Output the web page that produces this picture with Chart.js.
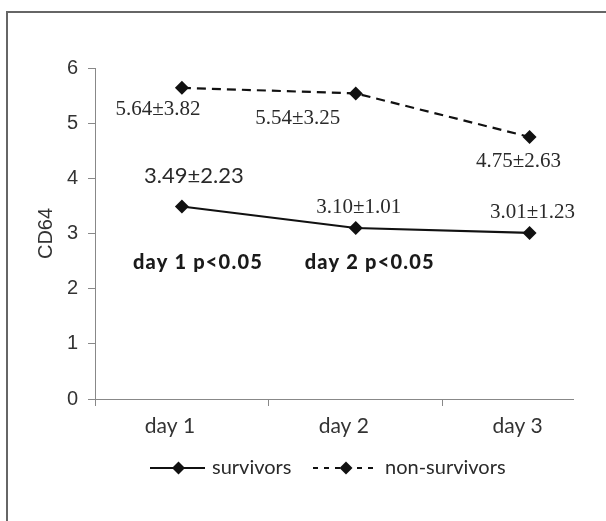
<!DOCTYPE html>
<html><head><meta charset="utf-8">
<script src="https://cdn.jsdelivr.net/npm/chart.js@4"></script>
<style>html,body{margin:0;padding:0;background:#fff}#wrap{width:606px;height:521px;position:relative}</style>
</head><body><div id="wrap"><canvas id="c"></canvas></div>
<script>
const categories = ['day 1', 'day 2', 'day 3'];
const survivors = [3.49, 3.10, 3.01];
const nonSurvivors = [5.64, 5.54, 4.75];
const survivorLabels = ['3.49\u00b12.23', '3.10\u00b11.01', '3.01\u00b11.23'];
const nonSurvivorLabels = ['5.64\u00b13.82', '5.54\u00b13.25', '4.75\u00b12.63'];
const seriesNames = ['survivors', 'non-survivors'];
const pNotes = ['day 1 p<0.05', 'day 2 p<0.05'];
const yTicks = [0, 1, 2, 3, 4, 5, 6];
const xBoundaries = [-0.5, 0.5, 1.5];

const SERIF = '21px "Liberation Serif", serif';
const SANS = '22px "Lato", sans-serif';
const labelOffsets = [
  [[12,-31],[3,-20],[3,-20]],
  [[-24,22],[-58,25],[-11,25]]
];
const labelFonts = [[SANS, SERIF, SERIF], [SERIF, SERIF, SERIF]];

const deco = {
  id: 'deco',
  beforeDraw(chart) {
    const ctx = chart.ctx;
    ctx.save();
    ctx.fillStyle = '#fff';
    ctx.fillRect(0, 0, chart.width, chart.height);
    ctx.strokeStyle = '#666';
    ctx.lineWidth = 2;
    ctx.strokeRect(7, 12, 800, 800);
    ctx.restore();
  },
  afterDatasetsDraw(chart) {
    const ctx = chart.ctx;
    ctx.save();
    ctx.fillStyle = '#2a2a2a';
    ctx.textAlign = 'center';
    ctx.textBaseline = 'middle';
    const texts = [survivorLabels, nonSurvivorLabels];
    [0, 1].forEach(di => {
      const meta = chart.getDatasetMeta(di);
      meta.data.forEach((pt, i) => {
        const o = labelOffsets[di][i];
        ctx.font = labelFonts[di][i];
        ctx.fillText(texts[di][i], pt.x + o[0], pt.y + o[1]);
      });
    });
    const xs = chart.scales.x, ys = chart.scales.y;
    ctx.font = '900 20px "Lato", sans-serif';
    try { ctx.letterSpacing = '1.2px'; } catch (e) {}
    ctx.fillStyle = '#1a1a1a';
    ctx.textAlign = 'left';
    ctx.fillText(pNotes[0], xs.getPixelForValue(0) - 49, ys.getPixelForValue(2.48));
    ctx.fillText(pNotes[1], xs.getPixelForValue(1) - 51, ys.getPixelForValue(2.48));
    try { ctx.letterSpacing = '0px'; } catch (e) {}
    // legend
    const ly = 468;
    const items = [
      { x1: 150, x2: 205, tx: 212, dash: [], name: seriesNames[0] },
      { x1: 313, x2: 377, tx: 385, dash: [5, 6], name: seriesNames[1] }
    ];
    items.forEach(it => {
      ctx.strokeStyle = '#111';
      ctx.lineWidth = 2;
      ctx.setLineDash(it.dash);
      ctx.beginPath();
      ctx.moveTo(it.x1, ly); ctx.lineTo(it.x2, ly); ctx.stroke();
      ctx.setLineDash([]);
      const cx = (it.x1 + it.x2) / 2 + 1, r = 6.5;
      ctx.fillStyle = '#111';
      ctx.beginPath();
      ctx.moveTo(cx, ly - r); ctx.lineTo(cx + r, ly); ctx.lineTo(cx, ly + r); ctx.lineTo(cx - r, ly);
      ctx.closePath(); ctx.fill();
      ctx.fillStyle = '#2a2a2a';
      ctx.font = '20px "Lato", sans-serif';
      ctx.textAlign = 'left';
      ctx.fillText(it.name, it.tx, ly);
    });
    ctx.restore();
  }
};

const toPts = arr => arr.map((v, i) => ({ x: i, y: v }));

new Chart(document.getElementById('c'), {
  type: 'line',
  data: {
    datasets: [
      { label: seriesNames[0], data: toPts(survivors), borderColor: '#111', backgroundColor: '#111',
        borderWidth: 2.2, pointStyle: 'rectRot', pointRadius: 7, pointBorderWidth: 0, tension: 0 },
      { label: seriesNames[1], data: toPts(nonSurvivors), borderColor: '#111', backgroundColor: '#111',
        borderWidth: 2.2, borderDash: [9, 6], pointStyle: 'rectRot', pointRadius: 7, pointBorderWidth: 0, tension: 0 }
    ]
  },
  options: {
    responsive: true, maintainAspectRatio: false, animation: false,
    layout: { padding: { left: 0, top: 68, right: 33, bottom: 82 } },
    plugins: { legend: { display: false }, tooltip: { enabled: false } },
    scales: {
      y: {
        min: 0, max: 6,
        afterBuildTicks(s) { s.ticks = yTicks.map(v => ({ value: v })); },
        afterFit(s) { s.width = 95; },
        grid: { drawOnChartArea: false, drawTicks: true, tickLength: 7, color: '#888' },
        border: { display: true, color: '#888', width: 1 },
        ticks: { color: '#333', font: { family: '"Liberation Sans", Arial, sans-serif', size: 20 }, padding: 10 },
        title: { display: true, text: 'CD64', color: '#333', font: { family: '"Liberation Sans", Arial, sans-serif', size: 20 }, padding: { top: 34, bottom: 0 } }
      },
      x: {
        type: 'linear',
        min: -0.5, max: 2.25,
        afterBuildTicks(s) { s.ticks = xBoundaries.map(v => ({ value: v })); },
        afterFit(s) { s.height = 40; },
        grid: { drawOnChartArea: false, drawTicks: true, tickLength: 7, color: '#888' },
        border: { display: true, color: '#888', width: 1 },
        ticks: {
          color: '#333', font: { family: '"Lato", sans-serif', size: 21 }, padding: 8,
          labelOffset: 75, maxRotation: 0, autoSkip: false,
          callback: (v, i) => categories[i]
        }
      }
    }
  },
  plugins: [deco]
});
</script></body></html>
